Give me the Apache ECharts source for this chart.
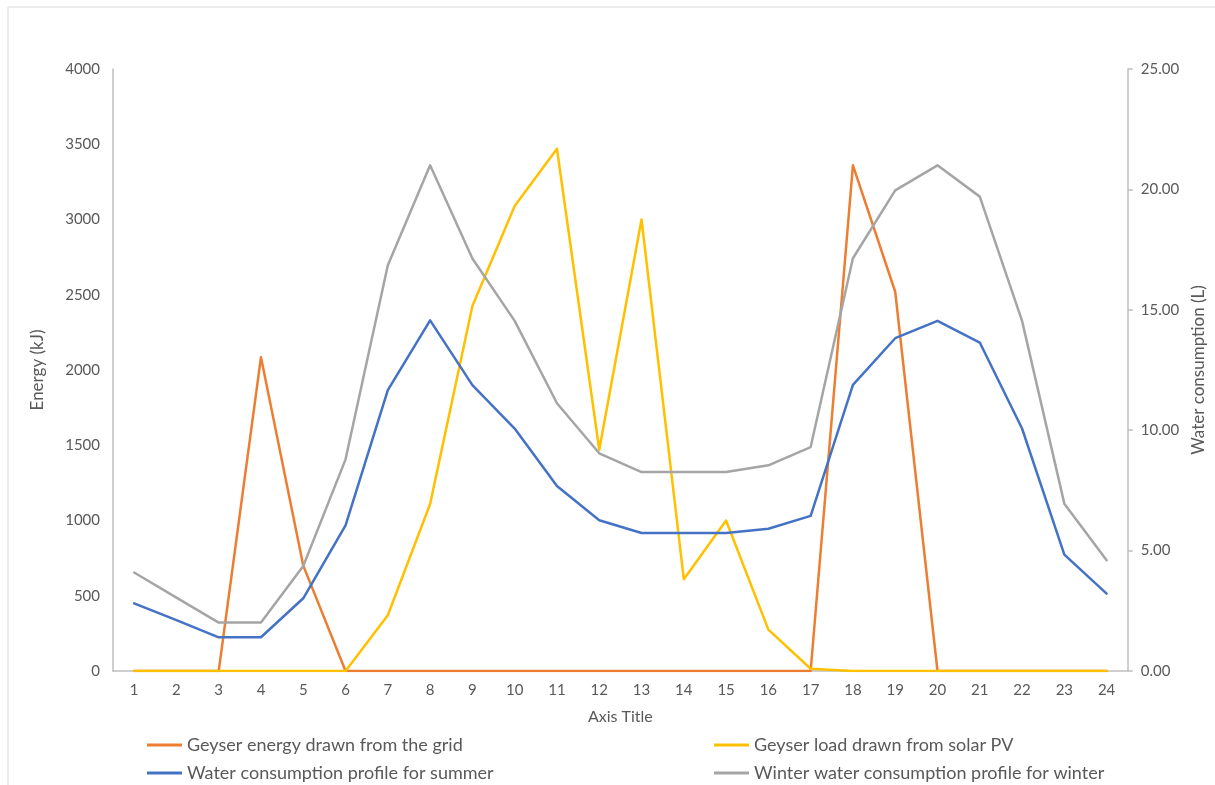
<!DOCTYPE html>
<html>
<head>
<meta charset="utf-8">
<script src="https://cdn.jsdelivr.net/npm/echarts@6/dist/echarts.min.js"></script>
<style>
  html, body { margin: 0; padding: 0; background: #fff; }
  #chart { width: 1215px; height: 785px; }
</style>
</head>
<body>
<div id="chart"></div>
<script>
// Hour of day
const hours = ['1','2','3','4','5','6','7','8','9','10','11','12','13','14','15','16','17','18','19','20','21','22','23','24'];

// Geyser energy per hour (kJ)
const gridEnergy  = [0, 0, 0, 2085, 700, 0, 0, 0, 0, 0, 0, 0, 0, 0, 0, 0, 0, 3360, 2520, 0, 0, 0, 0, 0];
const solarEnergy = [0, 0, 0, 0, 0, 0, 370, 1110, 2425, 3090, 3470, 1470, 3000, 610, 1000, 275, 15, 0, 0, 0, 0, 0, 0, 0];

// Hot water use per hour (L)
const summerWater = [2.81, 2.11, 1.40, 1.40, 3.02, 6.05, 11.66, 14.56, 11.87, 10.07, 7.68, 6.26, 5.73, 5.73, 5.73, 5.91, 6.44, 11.88, 13.82, 14.54, 13.64, 10.07, 4.83, 3.21];
const winterWater = [4.09, 3.05, 2.01, 2.01, 4.36, 8.79, 16.85, 21.00, 17.13, 14.54, 11.12, 9.04, 8.26, 8.26, 8.26, 8.54, 9.30, 17.14, 19.96, 21.00, 19.70, 14.54, 6.95, 4.60];

const seriesNames = [
  'Geyser energy drawn from the grid',
  'Geyser load drawn from solar PV',
  'Water consumption profile for summer',
  'Winter water consumption profile for winter'
];

const FONT = 'Lato';
const TXT = '#595959';
const AXIS = '#BFBFBF';

const chart = echarts.init(document.getElementById('chart'));

function lineSeries(name, data, color, yIdx) {
  return {
    name: name,
    type: 'line',
    data: data,
    yAxisIndex: yIdx,
    symbol: 'none',
    showSymbol: false,
    lineStyle: { color: color, width: 2.5, cap: 'round', join: 'round' },
    itemStyle: { color: color },
    emphasis: { disabled: true },
    animation: false
  };
}

// one legend entry per slot: two columns, two rows
function legendItem(name, left, top) {
  return {
    left: left,
    top: top,
    padding: 0,
    icon: 'rect',
    itemWidth: 35,
    itemHeight: 3,
    data: [name],
    textStyle: { color: TXT, fontSize: 18, fontFamily: FONT },
    selectedMode: false
  };
}

chart.setOption({
  animation: false,
  textStyle: { fontFamily: FONT },
  graphic: [{
    type: 'rect',
    shape: { x: 8, y: 7, width: 1230, height: 800 },
    style: { fill: 'none', stroke: '#D9D9D9', lineWidth: 1 },
    silent: true
  }],
  grid: { left: 113, right: 87, top: 69, bottom: 114, containLabel: false },
  legend: [
    legendItem(seriesNames[0], 147, 736),
    legendItem(seriesNames[2], 147, 764),
    legendItem(seriesNames[1], 714, 736),
    legendItem(seriesNames[3], 714, 764)
  ],
  xAxis: {
    type: 'category',
    data: hours,
    boundaryGap: true,
    name: 'Axis Title',
    nameLocation: 'middle',
    nameGap: 38,
    nameTextStyle: { color: TXT, fontSize: 16, fontFamily: FONT },
    axisLine: { lineStyle: { color: AXIS, width: 1.5 } },
    axisTick: { show: false },
    axisLabel: { color: TXT, fontSize: 15, fontFamily: FONT, margin: 12 },
    splitLine: { show: false }
  },
  yAxis: [{
    type: 'value',
    min: 0, max: 4000, interval: 500,
    name: 'Energy (kJ)',
    nameLocation: 'middle',
    nameGap: 67,
    nameRotate: 90,
    nameTextStyle: { color: TXT, fontSize: 17, fontFamily: FONT },
    axisLine: { show: true, lineStyle: { color: AXIS, width: 1.5 } },
    axisTick: { show: false },
    axisLabel: { color: TXT, fontSize: 15, fontFamily: FONT, margin: 13, formatter: v => String(v) },
    splitLine: { show: false }
  }, {
    type: 'value',
    position: 'right',
    min: 0, max: 25, interval: 5,
    name: 'Water consumption (L)',
    nameLocation: 'middle',
    nameGap: 60,
    nameRotate: 90,
    nameTextStyle: { color: TXT, fontSize: 17, fontFamily: FONT },
    axisLine: { show: true, lineStyle: { color: AXIS, width: 1.5 } },
    axisTick: { show: true, inside: false, length: 5, lineStyle: { color: AXIS, width: 1.5 } },
    axisLabel: { color: TXT, fontSize: 15, fontFamily: FONT, margin: 13, formatter: v => v.toFixed(2) },
    splitLine: { show: false }
  }],
  series: [
    lineSeries(seriesNames[0], gridEnergy, '#ED7D31', 0),
    lineSeries(seriesNames[1], solarEnergy, '#FFC000', 0),
    lineSeries(seriesNames[2], summerWater, '#4472C4', 1),
    lineSeries(seriesNames[3], winterWater, '#A5A5A5', 1)
  ]
});
</script>
</body>
</html>
